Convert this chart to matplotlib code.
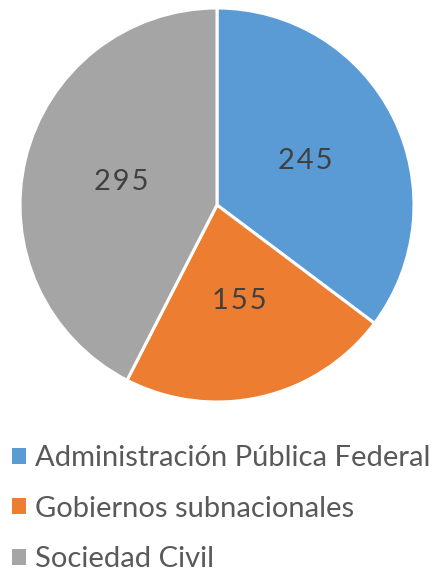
import matplotlib
matplotlib.use("Agg")
import matplotlib.pyplot as plt
from matplotlib.patches import Patch

categories = ["Administración Pública Federal", "Gobiernos subnacionales", "Sociedad Civil"]
values = [245, 155, 295]
colors = ["#5B9BD5", "#ED7D31", "#A5A5A5"]

plt.rcParams['font.family'] = ['Lato', 'DejaVu Sans']

fig = plt.figure(figsize=(4.38, 5.77), dpi=100)
ax = fig.add_axes([20/438, (577-402)/577, 394/438, 394/577])
total = sum(values)
wedges, texts, autotexts = ax.pie(
    values, colors=colors, startangle=90, counterclock=False, radius=1,
    autopct=lambda p: "\u200a".join(f"{round(p*total/100):d}"), pctdistance=0.5,
    wedgeprops=dict(edgecolor="white", linewidth=2.2),
    textprops=dict(fontsize=21, color="#404040"))
ax.set_xlim(-1, 1)
ax.set_ylim(-1, 1)
ax.set_aspect("equal")

handles = [Patch(facecolor=c, edgecolor="none") for c in colors]
leg = fig.legend(handles, categories, loc="upper left", bbox_to_anchor=(-14/438, 1 - 419/577),
                 frameon=False, handlelength=0.46, handleheight=0.46,
                 handletextpad=0.32, labelspacing=0.84, labelcolor="#595959",
                 prop=dict(size=21))
fig.savefig("out.png", dpi=100)
